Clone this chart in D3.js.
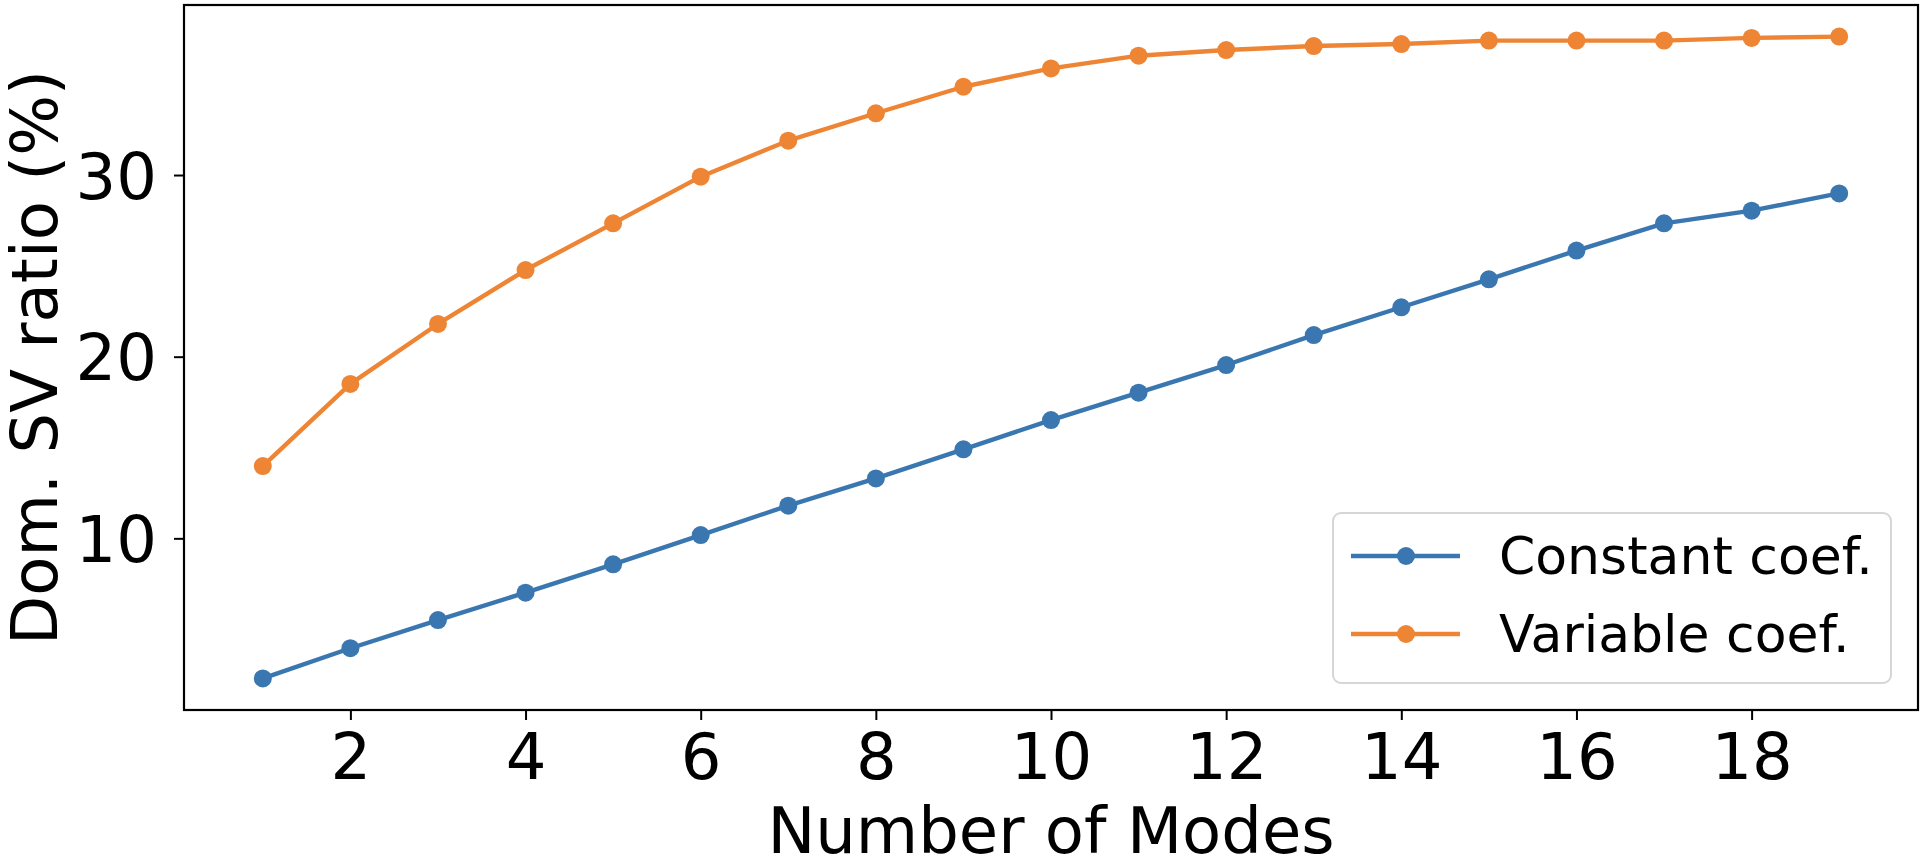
<!DOCTYPE html>
<html>
<head>
<meta charset="utf-8">
<script src="https://cdn.jsdelivr.net/npm/d3@7"></script>
<style>
  html, body { margin: 0; padding: 0; background: #fff; }
  svg { display: block; font-family: "DejaVu Sans", sans-serif; }
</style>
</head>
<body>
<svg id="chart" width="1926" height="864"></svg>
<script>
const modes = [1,2,3,4,5,6,7,8,9,10,11,12,13,14,15,16,17,18,19];
const constantCoef = [2.29,3.95,5.5,7.01,8.57,10.18,11.8,13.3,14.9,16.51,18.02,19.54,21.19,22.72,24.26,25.84,27.34,28.04,28.99];
const variableCoef = [13.98,18.5,21.8,24.77,27.34,29.91,31.89,33.4,34.86,35.87,36.57,36.88,37.1,37.21,37.4,37.4,37.4,37.55,37.62];
const seriesNames = ["Constant coef.", "Variable coef."];
const xTicks = [2,4,6,8,10,12,14,16,18];
const yTicks = [10,20,30];
const xLabel = "Number of Modes";
const yLabel = "Dom. SV ratio (%)";

const colors = ["#3a77b0", "#ee8534"];
const svg = d3.select("#chart");
const L = 184, R = 1918, T = 5, B = 710;

const x = d3.scaleLinear().domain([0.1, 19.9]).range([L, R]);
const y = d3.scaleLinear().domain([0.55, 39.36]).range([B, T]);

const series = [constantCoef, variableCoef];
const line = d3.line().x((d, i) => x(modes[i])).y(d => y(d));

series.forEach((vals, si) => {
  const g = svg.append("g");
  g.append("path").datum(vals)
    .attr("d", line).attr("fill", "none")
    .attr("stroke", colors[si]).attr("stroke-width", 4.4)
    .attr("stroke-linejoin", "round").attr("stroke-linecap", "square");
  g.selectAll("circle").data(vals).join("circle")
    .attr("cx", (d, i) => x(modes[i])).attr("cy", d => y(d))
    .attr("r", 9).attr("fill", colors[si]);
});

// axes
const xAxis = d3.axisBottom(x).tickValues(xTicks).tickSize(10).tickPadding(8).tickFormat(d3.format("d"));
const yAxis = d3.axisLeft(y).tickValues(yTicks).tickSize(10).tickPadding(8).tickFormat(d3.format("d"));

const gx = svg.append("g").attr("transform", `translate(0,${B})`).call(xAxis);
const gy = svg.append("g").attr("transform", `translate(${L},0)`).call(yAxis);
[gx, gy].forEach(g => {
  g.select(".domain").remove();
  g.selectAll(".tick line").attr("stroke", "#000").attr("stroke-width", 2);
  g.selectAll(".tick text").attr("fill", "#000").style("font-size", "64px")
    .style("font-family", '"DejaVu Sans", sans-serif');
});
gx.selectAll(".tick text").attr("dy", null).attr("y", 69);
gy.selectAll(".tick text").attr("dy", "0.36em").attr("x", -27);

// frame
svg.append("rect").attr("x", L).attr("y", T).attr("width", R - L).attr("height", B - T)
  .attr("fill", "none").attr("stroke", "#000").attr("stroke-width", 2.2);

// axis labels
svg.append("text").attr("x", (L + R) / 2).attr("y", 853).attr("text-anchor", "middle")
  .style("font-size", "64px").attr("fill", "#000").text(xLabel);
svg.append("text").attr("transform", `translate(57,${(T + B) / 2}) rotate(-90)`)
  .attr("text-anchor", "middle").style("font-size", "64px").attr("fill", "#000").text(yLabel);

// legend
const lg = svg.append("g");
lg.append("rect").attr("x", 1333).attr("y", 513).attr("width", 558).attr("height", 170)
  .attr("rx", 8).attr("fill", "#fff").attr("fill-opacity", 0.8)
  .attr("stroke", "#d6d6d6").attr("stroke-width", 2);
const rowY = [556, 634];
seriesNames.forEach((name, i) => {
  lg.append("line").attr("x1", 1351).attr("x2", 1460).attr("y1", rowY[i]).attr("y2", rowY[i])
    .attr("stroke", colors[i]).attr("stroke-width", 4.4);
  lg.append("circle").attr("cx", 1406).attr("cy", rowY[i]).attr("r", 9).attr("fill", colors[i]);
  lg.append("text").attr("x", 1499).attr("y", rowY[i] + 18).style("font-size", "52px")
    .attr("fill", "#000").text(name);
});
</script>
</body>
</html>
